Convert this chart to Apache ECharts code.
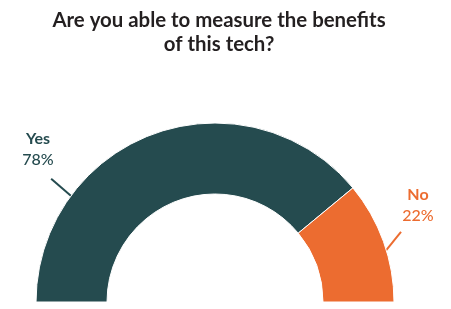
<!DOCTYPE html>
<html><head><meta charset="utf-8">
<script src="https://cdn.jsdelivr.net/npm/echarts@6/dist/echarts.min.js"></script>
<style>html,body{margin:0;padding:0;background:#fff}#c{width:451px;height:309px}</style>
</head><body><div id="c"></div>
<script>
var titleText = 'Are you able to measure the benefits\nof this tech?';
var categories = ['Yes', 'No'];
var values = [78, 22];
var colors = ['#254b4f', '#ec6c30'];
// label placement (layout config)
var labelPos = { Yes: [38, 149], No: [418, 205] };
var leaderAngle = { Yes: 143.7, No: 16.2 };      // degrees, where leader meets the outer arc
var leaderVec = { Yes: [-22, -19], No: [17, -21] }; // leader direction/length from the arc

var CX = 215, CY = 302, R0 = 108, R1 = 179;

var chart = echarts.init(document.getElementById('c'));
chart.setOption({
  animation: false,
  title: {
    text: titleText, left: 214, top: 3, textAlign: 'center',
    textStyle: { fontFamily: 'Lato', fontWeight: 'bold', fontSize: 20.4, lineHeight: 24, color: '#231f20' }
  },
  series: [{
    type: 'pie',
    center: [CX, CY],
    radius: [R0, R1],
    startAngle: 180, endAngle: 0,
    clockwise: true,
    data: categories.map(function (c, i) {
      return { name: c, value: values[i], itemStyle: { color: colors[i] },
        label: { color: colors[i] }, labelLine: { lineStyle: { color: colors[i] } } };
    }),
    itemStyle: { borderColor: '#ffffff', borderWidth: 1 },
    label: {
      show: true, position: 'outside',
      formatter: function (p) { return '{n|' + p.name + '}\n{v|' + p.value + '%}'; },
      rich: {
        n: { fontFamily: 'Lato', fontWeight: 'bold', fontSize: 16, lineHeight: 21 },
        v: { fontFamily: 'Lato', fontWeight: 500, fontSize: 16, lineHeight: 21 }
      }
    },
    labelLine: { show: true, length: 10, length2: 10, lineStyle: { width: 2 } },
    labelLayout: function (p) {
      var name = categories[p.dataIndex];
      var pos = labelPos[name];
      var a = leaderAngle[name] * Math.PI / 180;
      var ex = CX + (R1 - 3) * Math.cos(a), ey = CY - (R1 - 3) * Math.sin(a);
      var v = leaderVec[name];
      return {
        x: pos[0], y: pos[1], align: 'center', verticalAlign: 'middle',
        labelLinePoints: [[ex + v[0], ey + v[1]], [ex + v[0] / 2, ey + v[1] / 2], [ex, ey]]
      };
    }
  }]
});
</script></body></html>
